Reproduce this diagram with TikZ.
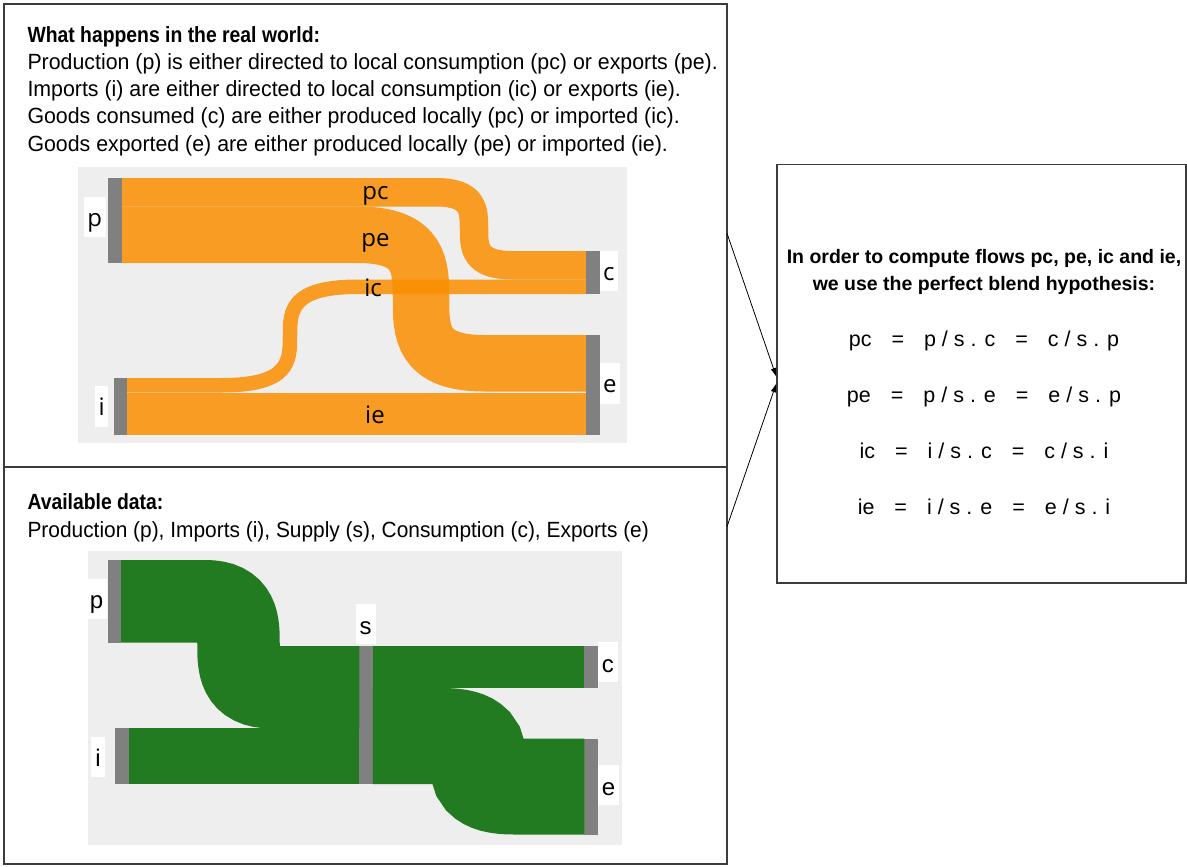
\documentclass[tikz,border=0pt]{standalone}
\usepackage{fontspec}
\setmainfont{Liberation Sans}
\newfontfamily\bodyfont[FakeStretch=0.97]{Liberation Sans}
\newfontfamily\databodyfont[FakeStretch=0.95]{Liberation Sans}
\newfontfamily\headfont[FakeStretch=0.88]{Liberation Sans}
\newfontfamily\labfont{Open Sans}
\usetikzlibrary{arrows.meta}
\definecolor{sankeybg}{RGB}{238,238,238}
\definecolor{flowor}{RGB}{250,142,0}
\definecolor{flowgr}{RGB}{35,123,33}
\definecolor{nodegray}{RGB}{128,128,128}
\definecolor{framec}{RGB}{60,60,60}
\begin{document}
\begin{tikzpicture}[x=1pt,y=-1pt,
  frame/.style={draw=framec, line width=1.2pt, inner sep=0pt, outer sep=0pt, anchor=north west},
  bgrect/.style={fill=sankeybg, draw=none},
  bar/.style={fill=nodegray, draw=none, inner sep=0pt, outer sep=0pt, minimum width=13.5pt, anchor=north west},
  orflow/.style={draw=flowor, draw opacity=0.85, line cap=butt},
  grflow/.style={draw=flowgr, line cap=butt},
  toplab/.style={fill=white, inner xsep=3.5pt, inner ysep=0pt, minimum height=40.5pt, text height=18pt, text depth=0pt, font=\labfont\fontsize{24}{28}\selectfont},
  midlab/.style={inner sep=0pt, anchor=base, font=\labfont\fontsize{24}{28}\selectfont},
  botlab/.style={fill=white, inner xsep=4pt, inner ysep=0pt, minimum height=40pt, text height=20pt, text depth=0pt, font=\fontsize{24}{28}\selectfont},
  body/.style={inner sep=0pt, anchor=base west, font=\bodyfont\fontsize{22}{27}\selectfont},
  databody/.style={inner sep=0pt, anchor=base west, font=\databodyfont\fontsize{22}{27}\selectfont},
  head/.style={inner sep=0pt, anchor=base west, font=\headfont\bfseries\fontsize{22}{27}\selectfont},
  rhead/.style={inner sep=0pt, anchor=base, font=\bfseries\fontsize{19.5}{24}\selectfont},
  eq/.style={inner sep=0pt, anchor=base, font=\fontsize{21.5}{26}\selectfont},
  arrowline/.style={draw=black, line width=0.8pt, -{Latex[length=9pt,width=5.5pt]}}
]
\useasboundingbox (0,0) rectangle (1187,867);
\fill[white] (0,0) rectangle (1187,867);

% frames
\node[frame, minimum width=723pt, minimum height=463pt] (realbox) at (4,4) {};
\node[frame, minimum width=723pt, minimum height=397pt] (databox) at (4,467) {};
\node[frame, minimum width=409pt, minimum height=418.5pt] (blendbox) at (777,164.5) {};

% ---------- top sankey ----------
\fill[bgrect] (78.3,167.3) rectangle (626.7,442.7);
\node[bar, minimum height=85pt] (p1) at (108,178) {};
\node[bar, minimum height=57pt] (i1) at (113.5,378) {};
\node[bar, minimum height=43pt] (c1) at (586,251) {};
\node[bar, minimum height=100pt] (e1) at (586,335) {};

\draw[orflow, line width=28.5pt] ([yshift=-14.25pt]p1.north east) -- (436,192.25)
  .. controls (512,192.25) and (436,265.25) .. (512,265.25) -- ([yshift=-14.25pt]c1.north west);
\draw[orflow, line width=56.5pt] ([yshift=28.25pt]p1.south east) -- (358,234.75)
  .. controls (484,234.75) and (358,363.25) .. (484,363.25) -- ([yshift=-28.25pt]e1.north west);
\draw[orflow, line width=14.5pt] ([yshift=-7.25pt]i1.north east) -- (222,385.25)
  .. controls (358,385.25) and (222,286.75) .. (358,286.75) -- ([yshift=7.25pt]c1.south west);
\draw[orflow, line width=42.5pt] ([yshift=21.25pt]i1.south east) -- ([yshift=21.25pt]e1.south west);

\node[bar, minimum height=85pt] at (p1.north west) {};
\node[bar, minimum height=57pt] at (i1.north west) {};
\node[bar, minimum height=43pt] at (c1.north west) {};
\node[bar, minimum height=100pt] at (e1.north west) {};

\node[toplab, anchor=east] (lp1) at (105.7,217) {p};
\node[toplab, anchor=east] (li1) at (108.3,406.7) {i};
\node[toplab, anchor=west] (lc1) at (599.3,271) {c};
\node[toplab, anchor=west] (le1) at (599.3,383.3) {e};
\node[midlab] (lpc) at (375.5,199.5) {pc};
\node[midlab] (lpe) at (375.5,246) {pe};
\node[midlab] (lic) at (373,296) {ic};
\node[midlab] (lie) at (375,423) {ie};

% ---------- bottom sankey ----------
\fill[bgrect] (87.7,551) rectangle (621.7,844.5);
\node[bar, minimum height=83pt] (p2) at (107.5,560) {};
\node[bar, minimum height=56pt] (i2) at (115.3,728) {};
\node[bar, minimum height=138pt] (s2) at (359.3,646) {};
\node[bar, minimum height=42pt] (c2) at (584.3,646) {};
\node[bar, minimum height=96pt] (e2) at (584.3,738.5) {};

\draw[grflow, line width=82.5pt] ([yshift=-41.25pt]p2.north east) -- (205,601.25)
  .. controls (272,601.25) and (205,687.25) .. (272,687.25) -- ([yshift=-41.25pt]s2.north west);
\draw[grflow, line width=56pt] (i2.east) -- (s2.west |- i2.east);
\draw[grflow, line width=42pt] (s2.east |- c2.west) -- (c2.west);
\draw[grflow, line width=96pt] ([yshift=48pt]s2.south east) -- (442,736)
  .. controls (514,736) and (442,786.5) .. (514,786.5) -- (e2.west);

\node[botlab, anchor=east] (lp2) at (107.3,598.5) {p};
\node[botlab, anchor=east] (li2) at (105,756.7) {i};
\node[botlab, anchor=south] (ls2) at (365.7,644.3) {s};
\node[botlab, anchor=west] (lc2) at (597.7,662.3) {c};
\node[botlab, anchor=west] (le2) at (597.7,785) {e};

% ---------- texts ----------
\node[head] (t1) at (27.3,42.3) {What happens in the real world:};
\node[body] (t2) at (27.3,69.5) {Production (p) is either directed to local consumption (pc) or exports (pe).};
\node[body] (t3) at (27.3,96.7) {Imports (i) are either directed to local consumption (ic) or exports (ie).};
\node[body] (t4) at (27.3,124) {Goods consumed (c) are either produced locally (pc) or imported (ic).};
\node[body] (t5) at (27.3,151.2) {Goods exported (e) are either produced locally (pe) or imported (ie).};

\node[head] (d1) at (27.3,509) {Available data:};
\node[databody] (d2) at (27.3,537) {Production (p), Imports (i), Supply (s), Consumption (c), Exports (e)};

\node[rhead] (r1) at (984,263.3) {In order to compute flows pc, pe, ic and ie,};
\node[rhead] (r2) at (984,290.7) {we use the perfect blend hypothesis:};

\node[eq] (q1) at (984,346.7) {pc\hspace{20pt}=\hspace{20pt}p / s . c\hspace{20pt}=\hspace{20pt}c / s . p};
\node[eq] (q2) at (984,402.7) {pe\hspace{20pt}=\hspace{20pt}p / s . e\hspace{20pt}=\hspace{20pt}e / s . p};
\node[eq] (q3) at (984,458.7) {ic\hspace{20pt}=\hspace{20pt}i / s . c\hspace{20pt}=\hspace{20pt}c / s . i};
\node[eq] (q4) at (984,514.7) {ie\hspace{20pt}=\hspace{20pt}i / s . e\hspace{20pt}=\hspace{20pt}e / s . i};

% ---------- arrows ----------
\coordinate (a1s) at (727,233.3);
\coordinate (a1e) at (776.4,377);
\coordinate (a2s) at (727,526.7);
\coordinate (a2e) at (776.4,383.3);
\draw[arrowline] (a1s) -- (a1e);
\draw[arrowline] (a2s) -- (a2e);
\end{tikzpicture}
\end{document}
